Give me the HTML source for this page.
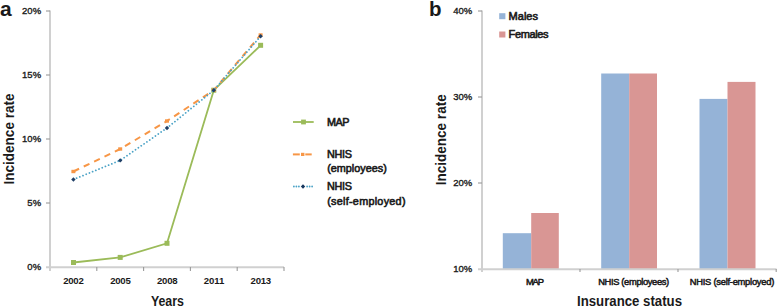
<!DOCTYPE html>
<html><head><meta charset="utf-8">
<style>
html,body{margin:0;padding:0;background:#fff;}
body{width:778px;height:307px;overflow:hidden;position:relative;}
svg{position:absolute;left:0;top:0;}
text{font-family:"Liberation Sans", sans-serif;fill:#1a1a1a;}
.b{font-weight:bold;}
.m{stroke:#1a1a1a;stroke-width:0.6;}
</style></head><body>
<svg width="778" height="307" viewBox="0 0 778 307">
<!-- ===== Panel a ===== -->
<text x="0" y="16" class="b" font-size="21">a</text>
<!-- y labels -->
<g font-size="9.5" text-anchor="end" stroke="#1a1a1a" stroke-width="0.35">
<text x="41.1" y="14.3">20%</text>
<text x="41.1" y="78.3">15%</text>
<text x="41.1" y="142.3">10%</text>
<text x="41.1" y="206.3">5%</text>
<text x="41.1" y="270.3">0%</text>
</g>
<text transform="translate(13.9,139) rotate(-90)" class="b" font-size="14" text-anchor="middle" textLength="91" lengthAdjust="spacingAndGlyphs">Incidence rate</text>
<!-- axes -->
<g stroke="#d0d0d0" stroke-width="2" fill="none">
<line x1="50" y1="10.5" x2="50" y2="271"/>
<line x1="46" y1="267.3" x2="284" y2="267.3"/>
</g>
<g stroke="#9a9a9a" stroke-width="1.1" fill="none">
<line x1="46" y1="11" x2="50" y2="11"/>
<line x1="46" y1="75" x2="50" y2="75"/>
<line x1="46" y1="139" x2="50" y2="139"/>
<line x1="46" y1="203" x2="50" y2="203"/>
<line x1="96.8" y1="267" x2="96.8" y2="271"/>
<line x1="143.6" y1="267" x2="143.6" y2="271"/>
<line x1="190.4" y1="267" x2="190.4" y2="271"/>
<line x1="237.2" y1="267" x2="237.2" y2="271"/>
<line x1="284" y1="267" x2="284" y2="271"/>
</g>
<!-- x labels -->
<g font-size="9.6" class="b" text-anchor="middle">
<text x="73.5" y="284.2" textLength="20.6">2002</text>
<text x="120.5" y="284.2" textLength="20.6">2005</text>
<text x="167.3" y="284.2" textLength="20.6">2008</text>
<text x="214.1" y="284.2" textLength="20.6">2011</text>
<text x="260.9" y="284.2" textLength="20.6">2013</text>
</g>
<text x="167.4" y="305.8" class="b" font-size="14" text-anchor="middle" textLength="33" lengthAdjust="spacingAndGlyphs">Years</text>
<!-- series -->
<polyline points="73.4,262.5 120.2,257.4 167,243.3 213.8,90.2 260.6,45.3" fill="none" stroke="#9bbb59" stroke-width="1.8"/>
<g fill="#9bbb59">
<rect x="71" y="260" width="5" height="5"/>
<rect x="117.7" y="254.9" width="5" height="5"/>
<rect x="164.5" y="240.8" width="5" height="5"/>
<rect x="211.3" y="87.7" width="5" height="5"/>
<rect x="258.1" y="42.8" width="5" height="5"/>
</g>
<polyline points="73.4,171.5 120.2,149 167,121 213.8,90.2 260.6,35" fill="none" stroke="#f79646" stroke-width="2" stroke-dasharray="6.3,5.2"/>
<g fill="#f79646">
<rect x="71.4" y="169.8" width="4" height="3.4"/>
<rect x="118.2" y="147.3" width="4" height="3.4"/>
<rect x="165" y="119.3" width="4" height="3.4"/>
<rect x="211.8" y="88.5" width="4" height="3.4"/>
<rect x="258.6" y="33.3" width="4" height="3.4"/>
</g>
<polyline points="73.4,179.5 120.2,160.4 167,128 213.8,90.2 260.6,36.3" fill="none" stroke="#4aa2c6" stroke-width="1.8" stroke-linecap="round" stroke-dasharray="0.01,3.45"/>
<g fill="#1f3f66">
<path d="M73.4,177.3 L75.6,179.5 L73.4,181.7 L71.2,179.5Z"/>
<path d="M120.2,158.2 L122.4,160.4 L120.2,162.6 L118.0,160.4Z"/>
<path d="M167.0,125.8 L169.2,128.0 L167.0,130.2 L164.8,128.0Z"/>
<path d="M213.8,88.0 L216.0,90.2 L213.8,92.4 L211.6,90.2Z"/>
<path d="M260.6,34.1 L262.8,36.3 L260.6,38.5 L258.4,36.3Z"/>
</g>
<!-- legend a -->
<line x1="293" y1="122" x2="313.7" y2="122" stroke="#9bbb59" stroke-width="1.8"/>
<rect x="301.1" y="119.6" width="4.8" height="4.8" fill="#9bbb59"/>
<text x="327" y="126" class="m" font-size="10.8" textLength="22.5">MAP</text>
<line x1="292.9" y1="154.4" x2="299.8" y2="154.4" stroke="#f79646" stroke-width="2"/><line x1="305.3" y1="154.4" x2="311.7" y2="154.4" stroke="#f79646" stroke-width="2"/>
<rect x="301" y="152.8" width="3.4" height="3.2" fill="#f79646"/>
<text x="327" y="158.2" class="m" font-size="10.8" textLength="25">NHIS</text>
<text x="327.2" y="172.3" class="m" font-size="10.8" textLength="59.6">(employees)</text>
<g fill="#4aa2c6"><circle cx="293.9" cy="186.5" r="0.9"/><circle cx="296.4" cy="186.5" r="0.9"/><circle cx="298.9" cy="186.5" r="0.9"/><circle cx="307.1" cy="186.5" r="0.9"/><circle cx="309.6" cy="186.5" r="0.9"/><circle cx="312.1" cy="186.5" r="0.9"/></g>
<path d="M303,184.3 L305.2,186.5 L303,188.7 L300.8,186.5Z" fill="#17375e"/>
<text x="327" y="190.2" class="m" font-size="10.8" textLength="25">NHIS</text>
<text x="327.2" y="204.6" class="m" font-size="10.8" textLength="78.3">(self-employed)</text>

<!-- ===== Panel b ===== -->
<text x="429" y="16.3" class="b" font-size="20.5">b</text>
<g font-size="9.5" text-anchor="end" stroke="#1a1a1a" stroke-width="0.35">
<text x="472.3" y="14.3">40%</text>
<text x="472.3" y="100.3">30%</text>
<text x="472.3" y="186.3">20%</text>
<text x="472.3" y="272.3">10%</text>
</g>
<text transform="translate(445.8,139.8) rotate(-90)" class="b" font-size="14" text-anchor="middle" textLength="91" lengthAdjust="spacingAndGlyphs">Incidence rate</text>
<!-- bars -->
<g fill="#95b3d7">
<rect x="502.8" y="233.2" width="28.4" height="36"/>
<rect x="601.2" y="73.5" width="28" height="195.7"/>
<rect x="699.5" y="98.9" width="28" height="170.3"/>
</g>
<g fill="#d99694">
<rect x="531.2" y="213" width="27.6" height="56.2"/>
<rect x="629.2" y="73.5" width="27.8" height="195.7"/>
<rect x="727.5" y="81.9" width="28" height="187.3"/>
</g>
<g stroke="#d0d0d0" stroke-width="2" fill="none">
<line x1="482" y1="10.5" x2="482" y2="272"/>
<line x1="478" y1="269.2" x2="776.5" y2="269.2"/>
</g>
<g stroke="#9a9a9a" stroke-width="1.1" fill="none">
<line x1="478" y1="11" x2="482" y2="11"/>
<line x1="478" y1="97" x2="482" y2="97"/>
<line x1="478" y1="183" x2="482" y2="183"/>
<line x1="580" y1="269" x2="580" y2="272"/>
<line x1="678" y1="269" x2="678" y2="272"/>
<line x1="776.2" y1="269" x2="776.2" y2="272"/>
</g>
<g font-size="9.4" class="m" text-anchor="middle" style="stroke-width:0.5">
<text x="534.9" y="284.8" textLength="18">MAP</text>
<text x="633.7" y="284.8" textLength="71">NHIS (employees)</text>
<text x="732" y="284.8" textLength="84.5">NHIS (self-employed)</text>
</g>
<text x="629.5" y="305.8" class="b" font-size="14" text-anchor="middle" textLength="105" lengthAdjust="spacingAndGlyphs">Insurance status</text>
<!-- legend b -->
<rect x="499.2" y="13.2" width="6.2" height="6" fill="#95b3d7"/>
<text x="508.6" y="19.6" class="m" font-size="11" textLength="29.4">Males</text>
<rect x="499.2" y="31.5" width="6.2" height="6" fill="#d99694"/>
<text x="508.6" y="37.6" class="m" font-size="11" textLength="39.8">Females</text>
</svg>
</body></html>
